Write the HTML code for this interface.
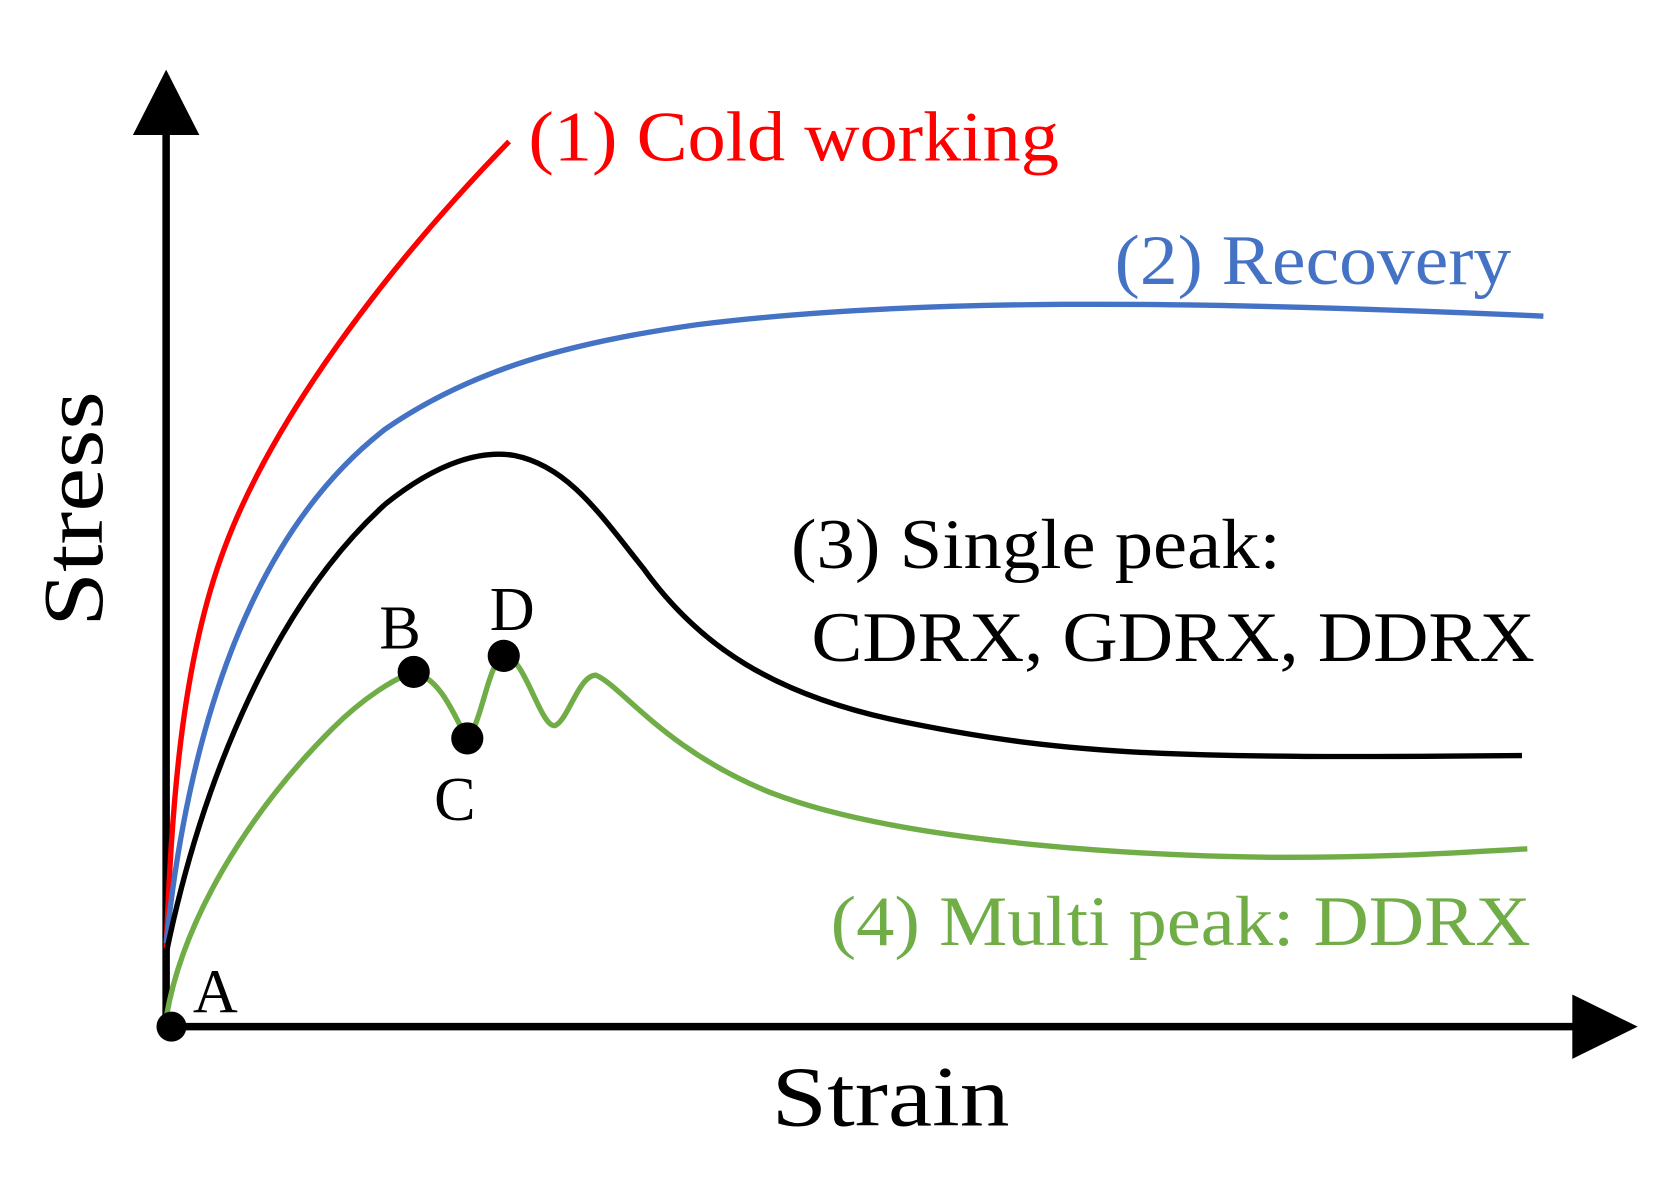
<!DOCTYPE html>
<html><head><style>html,body{margin:0;padding:0;background:#fff}svg{display:block}</style></head>
<body>
<svg width="1672" height="1196" viewBox="0 0 1560 1116" preserveAspectRatio="none" xmlns="http://www.w3.org/2000/svg" font-family="Liberation Serif, serif">
<line x1="155" y1="960" x2="155" y2="118" stroke="#000" stroke-width="7"/>
<polygon points="155,65 124,126 186,126" fill="#000"/>
<line x1="155" y1="958" x2="1475" y2="958" stroke="#000" stroke-width="7"/>
<polygon points="1528,958 1467,928 1467,988" fill="#000"/>
<path d="M155,885 C160,760 168,620 210,510 C255,390 360,250 475,132" fill="none" stroke="#ff0000" stroke-width="5"/>
<path d="M155,880 C175,690 230,500 360,400 C440,345 530,320 650,303 C850,278 1100,280 1440,295" fill="none" stroke="#4472c4" stroke-width="5"/>
<path d="M155,890 C190,720 260,560 360,470 C410,430 450,420 480,425 C530,435 560,480 600,530 C650,600 720,650 850,675 C1000,705 1100,708 1420,705" fill="none" stroke="#000" stroke-width="5"/>
<path d="M155,950 C170,860 230,760 310,680 C340,650 370,632 385,628 C410,630 425,670 435,688 C450,680 455,612 472,612 C490,615 505,680 518,677 C530,672 540,630 556,630 C580,640 620,700 720,740 C850,790 1100,800 1200,800 C1300,800 1370,795 1425,792" fill="none" stroke="#70ad47" stroke-width="5"/>
<circle cx="160" cy="958" r="14" fill="#000"/>
<circle cx="386" cy="627" r="15" fill="#000"/>
<circle cx="436" cy="689" r="15" fill="#000"/>
<circle cx="470" cy="612" r="15" fill="#000"/>
<g lengthAdjust="spacingAndGlyphs">
<text x="493" y="150" font-size="66" fill="#ff0000" textLength="495" lengthAdjust="spacingAndGlyphs">(1) Cold working</text>
<text x="1040" y="265" font-size="66" fill="#4472c4" textLength="370" lengthAdjust="spacingAndGlyphs">(2) Recovery</text>
<text x="738" y="530" font-size="66" fill="#000" textLength="457" lengthAdjust="spacingAndGlyphs">(3) Single peak:</text>
<text x="757" y="617" font-size="66" fill="#000" textLength="675" lengthAdjust="spacingAndGlyphs">CDRX, GDRX, DDRX</text>
<text x="775" y="882" font-size="66" fill="#70ad47" textLength="653" lengthAdjust="spacingAndGlyphs">(4) Multi peak: DDRX</text>
<text x="720" y="1050" font-size="80" fill="#000" textLength="222" lengthAdjust="spacingAndGlyphs">Strain</text>
<text transform="translate(95,475) rotate(-90)" x="-110" font-size="80" fill="#000" textLength="220" lengthAdjust="spacingAndGlyphs">Stress</text>
</g>
<text x="354" y="605" font-size="58" fill="#000">B</text>
<text x="457" y="588" font-size="58" fill="#000">D</text>
<text x="405" y="765" font-size="58" fill="#000">C</text>
<text x="180" y="945" font-size="58" fill="#000">A</text>
</svg>
</body></html>
